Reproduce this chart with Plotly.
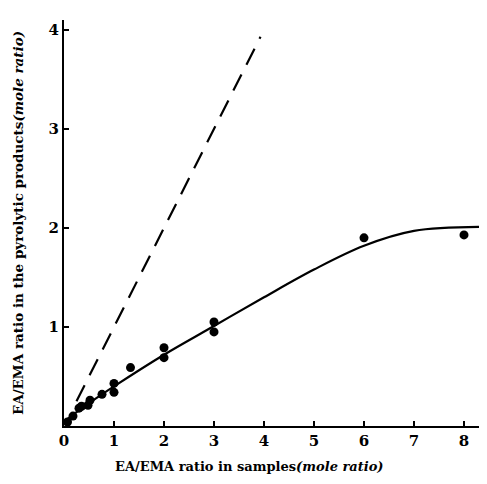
import plotly.graph_objects as go

# Measured points
pts_x = [0.07, 0.18, 0.3, 0.35, 0.48, 0.52, 0.76, 1.0, 1.0, 1.33, 2.0, 2.0, 3.0, 3.0, 6.0, 8.0]
pts_y = [0.04, 0.1, 0.18, 0.2, 0.21, 0.26, 0.32, 0.43, 0.34, 0.59, 0.79, 0.69, 1.05, 0.95, 1.9, 1.93]

# Fitted curve
curve_x = [0.04, 0.5, 1.0, 2.0, 3.0, 4.0, 5.0, 6.0, 7.0, 8.3]
curve_y = [0.06, 0.23, 0.4, 0.72, 1.01, 1.3, 1.58, 1.82, 1.97, 2.01]

# Dashed reference line (y = x)
dash_x = [0.25, 3.93]
dash_y = [0.25, 3.93]

x_ticks = [0, 1, 2, 3, 4, 5, 6, 7, 8]
y_ticks = [1, 2, 3, 4]

FONT = "DejaVu Serif"

fig = go.Figure()
fig.add_trace(go.Scatter(x=dash_x, y=dash_y, mode="lines",
                         line=dict(color="black", width=2.2, dash="18px,11px"),
                         showlegend=False, hoverinfo="skip"))
fig.add_trace(go.Scatter(x=curve_x, y=curve_y, mode="lines",
                         line=dict(color="black", width=2.2, shape="spline", smoothing=1.0),
                         showlegend=False, hoverinfo="skip"))
fig.add_trace(go.Scatter(x=pts_x, y=pts_y, mode="markers",
                         marker=dict(color="black", size=9),
                         showlegend=False))

# page body has an 8px default margin, so the figure is 8px smaller and shifted
fig.update_layout(
    width=479, height=476,
    margin=dict(l=56, r=0, t=12, b=58),
    paper_bgcolor="white", plot_bgcolor="white",
    font=dict(family=FONT, color="black", size=13),
    xaxis=dict(range=[0, 8.46], tickvals=x_ticks, ticktext=["<b>%d</b>" % v for v in x_ticks],
               showline=True, linecolor="black", linewidth=2, showgrid=False, zeroline=False,
               ticks="inside", ticklen=5, tickcolor="black", tickwidth=1.5, automargin=False,
               tickfont=dict(family=FONT, size=15, color="black")),
    yaxis=dict(range=[0, 4.1], tickvals=y_ticks, ticktext=["<b>%d</b>" % v for v in y_ticks],
               showline=True, linecolor="black", linewidth=2, showgrid=False, zeroline=False,
               ticks="inside", ticklen=5, tickcolor="black", tickwidth=1.5, automargin=False,
               ticklabelstandoff=0,
               tickfont=dict(family=FONT, size=15, color="black"),
               title=dict(text="<b>EA/EMA ratio in the pyrolytic products<i>(mole ratio)</i></b>",
                          font=dict(family=FONT, size=13.5), standoff=22)),
    annotations=[dict(text="<b>EA/EMA ratio in samples<i>(mole ratio)</i></b>",
                      xref="paper", yref="paper", x=0.437, y=0, yshift=-40,
                      xanchor="center", yanchor="middle", showarrow=False,
                      font=dict(family=FONT, size=13, color="black"))],
)

fig.write_html("out.html")
